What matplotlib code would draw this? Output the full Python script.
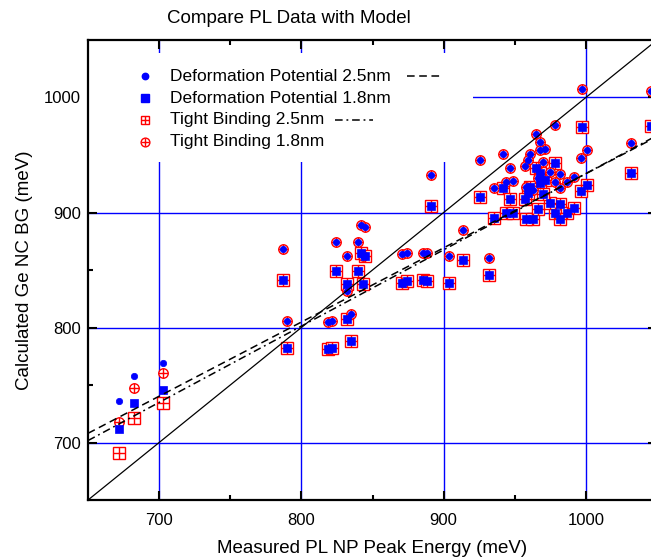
import matplotlib
matplotlib.use("Agg")
import matplotlib.pyplot as plt
from matplotlib.patches import Rectangle

plt.rcParams["font.family"] = ["Liberation Sans", "DejaVu Sans"]

# measured PL peak energy (meV) for each nanocrystal sample
measured = [672, 682, 703,
            787, 790, 818.5, 821.5, 824, 832, 832, 835, 840, 842, 844.5, 843,
            871, 874, 885.5, 888, 904, 913.5, 891, 932, 925.5, 942, 946.5,
            935.5, 944, 948.5,
            965, 968, 978, 971.5, 967.5, 961, 959, 957, 1000.5, 996.5,
            981.5, 978, 986.5, 991.5, 963, 958, 981.5, 966, 975, 970,
            997, 1046, 1031.5]

# calculated band gap (meV), four models
dp_25 = [736, 758, 769,
         868, 805.5, 805, 805.5, 874, 862.5, 831.5, 812, 874, 889.5, 887, 862,
         863.5, 865, 865, 865, 862.5, 885, 933, 860.5, 945.5, 950.5, 939,
         921.5, 926.5, 927,
         968.5, 961.5, 976, 955.5, 954, 951, 946, 940, 954, 947,
         933.5, 926.5, 926.5, 930.5, 920, 922, 921, 930, 935, 944,
         1007, 1005.5, 960.5]
dp_18 = [712, 734, 745.5,
         841.5, 782, 781, 782, 849, 837.5, 807, 788, 849, 865, 862, 837.5,
         839, 840.5, 841, 840.5, 838.5, 858.5, 905.5, 846, 913.5, 921.5, 911.5,
         895, 899.5, 900,
         939, 934, 943, 928, 926, 922, 917, 912, 923.5, 918.5,
         907, 900, 899.5, 904, 894, 894, 894, 903, 908, 916,
         974.5, 975, 934]
tb_25 = [691, 721, 734.5,
         841.5, 782, 781, 782, 849, 837.5, 807, 788, 849, 865, 862, 837.5,
         839, 840.5, 841, 840.5, 838.5, 858.5, 905.5, 846, 913.5, 921.5, 911.5,
         895, 899.5, 900,
         939, 934, 943, 928, 926, 922, 917, 912, 923.5, 918.5,
         907, 900, 899.5, 904, 894, 894, 894, 903, 908, 916,
         974.5, 975, 934]
tb_18 = [718, 747, 760.5,
         868, 805.5, 805, 805.5, 874, 862.5, 831.5, 812, 874, 889.5, 887, 862,
         863.5, 865, 865, 865, 862.5, 885, 933, 860.5, 945.5, 950.5, 939,
         921.5, 926.5, 927,
         968.5, 961.5, 976, 955.5, 954, 951, 946, 940, 954, 947,
         933.5, 926.5, 926.5, 930.5, 920, 922, 921, 930, 935, 944,
         1007, 1005.5, 960.5]

fit_x = [650, 1050]
dp_fit = [708, 966]
tb_fit = [701.7, 967]
ideal = [650, 1050]

labels = ["Deformation Potential 2.5nm", "Deformation Potential 1.8nm",
          "Tight Binding 2.5nm", "Tight Binding 1.8nm"]

fig = plt.figure(figsize=(6.51, 5.57), dpi=100)
ax = fig.add_axes([0.1352, 0.1023, 0.874, 0.8259])

# red open markers with a cross, underneath the blue ones
ax.plot(measured, tb_25, ls="none", marker="s", ms=8.3, mfc="white", mec="red", mew=1.0, zorder=3)
ax.plot(measured, tb_25, ls="none", marker="+", ms=8.3, mec="red", mew=1.0, zorder=3)
ax.plot(measured, tb_18, ls="none", marker="o", ms=6.8, mfc="white", mec="red", mew=1.0, zorder=3)
ax.plot(measured, tb_18, ls="none", marker="+", ms=6.8, mec="red", mew=1.0, zorder=3)
ax.plot(measured, dp_18, ls="none", marker="s", ms=6.3, mfc="blue", mec="blue", mew=0.5, zorder=4)
ax.plot(measured, dp_25, ls="none", marker="o", ms=4.6, mfc="blue", mec="blue", mew=0.5, zorder=4)

ax.plot(ideal, ideal, color="black", lw=0.9, zorder=5)
ax.plot(fit_x, dp_fit, color="black", lw=1.1, dashes=(5, 3), zorder=5)
ax.plot(fit_x, tb_fit, color="black", lw=1.1, dashes=(5, 2.5, 1.2, 2.5), zorder=5)

ax.set_xlim(650, 1050)
ax.set_ylim(650, 1050)
ax.set_xticks([700, 800, 900, 1000])
ax.set_yticks([700, 800, 900, 1000])
ax.set_xticks([750, 850, 950], minor=True)
ax.set_yticks([750, 850, 950], minor=True)
ax.tick_params(which="both", direction="in", top=True, right=True, labelsize=12, width=1.5)
ax.tick_params(which="major", length=6.5)
ax.tick_params(which="minor", length=3.5)
ax.tick_params(axis="x", pad=9)
ax.tick_params(axis="y", pad=5)
ax.grid(True, which="major", color="blue", lw=1.0, zorder=0)
ax.set_axisbelow(True)
for sp in ax.spines.values():
    sp.set_linewidth(1.6)

ax.set_xlabel("Measured PL NP Peak Energy (meV)", fontsize=13.5, labelpad=9)
ax.set_ylabel("Calculated Ge NC BG (meV)", fontsize=13.5, labelpad=8)
fig.text(0.444, 0.966, "Compare PL Data with Model", fontsize=13.5, ha="center", va="center")

# legend drawn Origin style: marker, label, line sample after the label
ax.add_patch(Rectangle((0.0, 0.735), 0.677, 0.237, transform=ax.transAxes,
                       facecolor="white", edgecolor="none", zorder=1))
rows = [0.9217, 0.8732, 0.8261, 0.7789]
mx, tx = 0.1002, 0.1441
ax.plot([mx], [rows[0]], transform=ax.transAxes, marker="o", ms=4.6, color="blue", zorder=6)
ax.plot([mx], [rows[1]], transform=ax.transAxes, marker="s", ms=6.3, color="blue", zorder=6)
ax.plot([mx], [rows[2]], transform=ax.transAxes, marker="s", ms=6.3, mfc="white", mec="red", mew=1.0, zorder=6)
ax.plot([mx], [rows[2]], transform=ax.transAxes, marker="+", ms=6.3, mec="red", mew=1.0, zorder=6)
ax.plot([mx], [rows[3]], transform=ax.transAxes, marker="o", ms=6.3, mfc="white", mec="red", mew=1.0, zorder=6)
ax.plot([mx], [rows[3]], transform=ax.transAxes, marker="+", ms=6.3, mec="red", mew=1.0, zorder=6)
for r, lab in zip(rows, labels):
    ax.text(tx, r, lab, transform=ax.transAxes, fontsize=12.5, va="center", ha="left", zorder=6)
ax.plot([0.5606, 0.6186], [rows[0], rows[0]], transform=ax.transAxes, color="black",
        lw=1.1, dashes=(5, 3), zorder=6)
ax.plot([0.434, 0.501], [rows[2], rows[2]], transform=ax.transAxes, color="black",
        lw=1.1, dashes=(5, 2.5, 1.2, 2.5), zorder=6)

fig.savefig("out.png", dpi=100)
